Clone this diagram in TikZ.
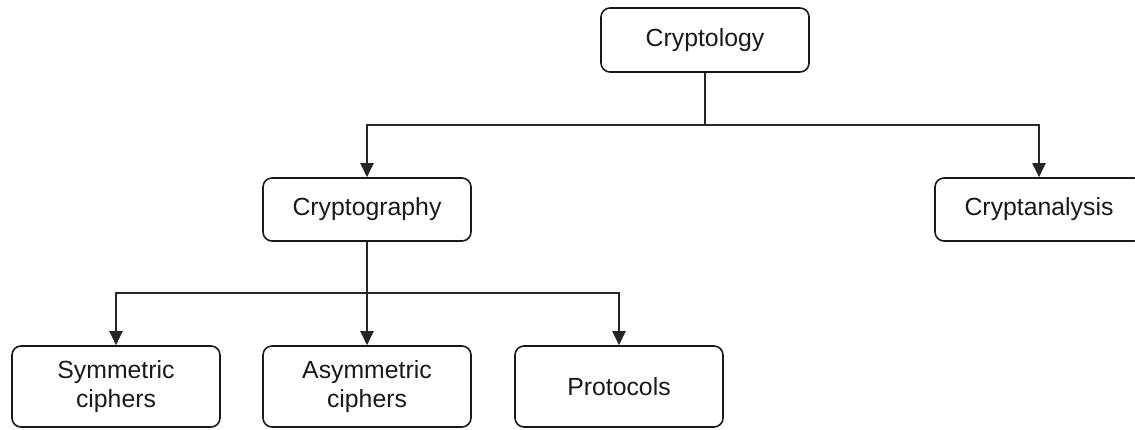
\documentclass[tikz,border=0pt]{standalone}
\usepackage{fontspec}
\setmainfont{Liberation Sans}
\usetikzlibrary{arrows.meta}
\begin{document}
\begin{tikzpicture}[x=1pt,y=-1pt,
 box/.style={draw=black!90, line width=1.6pt, rounded corners=9pt, minimum width=208pt, inner sep=0pt, align=center, font=\fontsize{24.8}{29}\selectfont, text=black!90},
 topbox/.style={box, minimum height=63pt},
 botbox/.style={box, minimum height=81pt},
 conn/.style={draw=black!85, line width=2pt, -{Triangle[length=14pt,width=13pt]}},
 plain/.style={draw=black!85, line width=2pt}]
\useasboundingbox (0,0) rectangle (1135,430);
\clip (0,0) rectangle (1135,430);
\node[topbox, minimum height=64pt] (cl) at (705,40) {Cryptology};
\node[topbox] (cg) at (367,209.5) {Cryptography};
\node[topbox] (ca) at (1039,209.5) {Cryptanalysis};
\node[botbox] (sy) at (116,386.5) {Symmetric\\ciphers};
\node[botbox] (as) at (367,386.5) {Asymmetric\\ciphers};
\node[botbox] (pr) at (619,386.5) {Protocols};
\coordinate (j1) at (705,125);
\coordinate (j2) at (367,293);
\draw[plain] (cl.south) -- (j1);
\draw[conn] (j1) -| (cg.north);
\draw[conn] (j1) -| (ca.north);
\draw[conn] (cg.south) -- (as.north);
\draw[conn] (j2) -| (sy.north);
\draw[conn] (j2) -| (pr.north);
\end{tikzpicture}
\end{document}
